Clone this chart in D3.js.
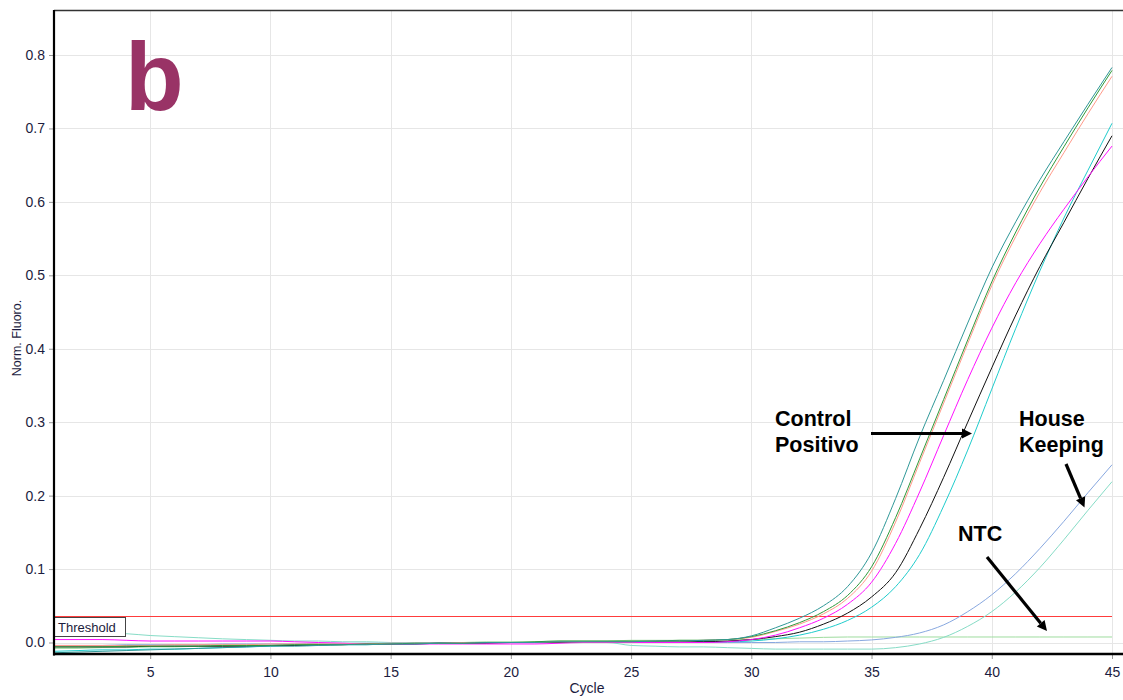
<!DOCTYPE html>
<html>
<head>
<meta charset="utf-8">
<script src="https://cdn.jsdelivr.net/npm/d3@7"></script>
<style>
  html, body { margin: 0; padding: 0; background: #ffffff; }
  svg { display: block; font-family: "Liberation Sans", Arial, sans-serif; }
</style>
</head>
<body>
<svg id="chart" width="1123" height="700"></svg>
<script>
// Amplification cycles
const cycles = [1,2,3,4,5,6,7,8,9,10,11,12,13,14,15,16,17,18,19,20,21,22,23,24,25,26,27,28,29,30,31,32,33,34,35,36,37,38,39,40,41,42,43,44,45];

// Normalised fluorescence per cycle for each well
const wellTeal = [-0.014,-0.013,-0.012,-0.011,-0.010,-0.009,-0.008,-0.007,-0.006,-0.005,-0.005,-0.004,-0.003,-0.003,-0.002,-0.002,-0.001,-0.001,0.000,0.000,0.000,0.001,0.001,0.001,0.001,0.002,0.002,0.003,0.004,
  0.009,0.020,0.033,0.050,0.076,0.122,0.196,0.280,0.357,0.435,0.510,0.573,0.630,0.682,0.733,0.783];
const wellGreen = [-0.006,-0.006,-0.006,-0.005,-0.005,-0.005,-0.005,-0.004,-0.004,-0.004,-0.003,-0.003,-0.003,-0.002,-0.002,-0.001,-0.001,-0.001,0.000,0.000,0.001,0.002,0.002,0.002,0.002,0.002,0.003,0.003,0.004,
  0.008,0.016,0.027,0.042,0.064,0.103,0.170,0.250,0.331,0.412,0.491,0.559,0.620,0.675,0.728,0.779];
const wellSalmon = [-0.004,-0.004,-0.004,-0.004,-0.004,-0.003,-0.003,-0.003,-0.003,-0.002,-0.002,-0.002,-0.002,-0.002,-0.001,-0.001,-0.001,0.000,0.000,0.000,0.000,0.001,0.001,0.001,0.001,0.002,0.002,0.003,0.004,
  0.007,0.015,0.025,0.039,0.060,0.097,0.164,0.245,0.326,0.407,0.486,0.553,0.613,0.667,0.720,0.771];
const wellMagenta = [0.004,0.004,0.004,0.003,0.002,0.002,0.002,0.002,0.002,0.002,0.001,0.000,-0.001,-0.002,-0.002,-0.002,-0.002,-0.002,-0.002,-0.002,-0.002,-0.001,0.000,0.000,0.000,0.000,0.000,0.000,0.001,
  0.004,0.010,0.020,0.033,0.052,0.082,0.135,0.205,0.282,0.358,0.428,0.490,0.543,0.590,0.634,0.676];
const wellBlack = [-0.006,-0.006,-0.006,-0.006,-0.005,-0.005,-0.005,-0.005,-0.005,-0.004,-0.004,-0.003,-0.003,-0.002,-0.002,-0.002,-0.001,-0.001,-0.001,0.000,0.000,0.000,0.000,0.001,0.001,0.001,0.001,0.001,0.002,
  0.004,0.008,0.014,0.025,0.040,0.062,0.095,0.155,0.225,0.300,0.374,0.446,0.512,0.572,0.632,0.690];
const wellCyan = [-0.012,-0.011,-0.010,-0.010,-0.009,-0.009,-0.008,-0.007,-0.006,-0.005,-0.004,-0.004,-0.003,-0.003,-0.002,-0.002,-0.001,-0.001,0.000,0.000,0.000,0.000,0.000,0.001,0.001,0.001,0.001,0.001,0.001,
  0.002,0.005,0.010,0.018,0.030,0.048,0.076,0.120,0.186,0.262,0.345,0.428,0.506,0.578,0.643,0.707];
const houseKeepingA = [-0.004,-0.004,-0.004,-0.003,-0.003,-0.003,-0.003,-0.002,-0.002,-0.002,-0.002,-0.001,-0.001,-0.001,-0.001,-0.001,0.000,0.000,0.000,0.000,0.000,0.000,0.000,0.000,0.000,0.000,0.000,0.000,0.000,
  0.000,0.000,0.001,0.001,0.002,0.0035,0.007,0.013,0.024,0.042,0.065,0.094,0.128,0.165,0.204,0.242];
const houseKeepingB = [0.016,0.014,0.013,0.012,0.0095,0.008,0.0065,0.005,0.004,0.003,0.002,0.002,0.001,0.001,0.000,0.000,0.000,0.000,0.000,0.000,0.000,0.000,0.000,0.000,-0.004,-0.005,-0.006,-0.006,-0.007,
  -0.008,-0.009,-0.009,-0.009,-0.009,-0.009,-0.007,-0.002,0.007,0.022,0.042,0.069,0.102,0.140,0.180,0.219];
const ntc = [-0.008,-0.008,-0.007,-0.007,-0.006,-0.006,-0.005,-0.005,-0.004,-0.004,-0.003,-0.003,-0.002,-0.002,-0.001,-0.001,0.000,0.000,0.001,0.001,0.001,0.002,0.002,0.002,0.003,0.003,0.003,0.003,0.004,
  0.004,0.005,0.006,0.007,0.0075,0.0075,0.0075,0.0075,0.0075,0.0075,0.0075,0.0075,0.0075,0.0075,0.0075,0.0075];

const thresholdValue = 0.0365;

const xTickValues = [5,10,15,20,25,30,35,40,45];
const yTickValues = [0.0,0.1,0.2,0.3,0.4,0.5,0.6,0.7,0.8];

// drawn back to front
const curves = [
  { values: ntc,           color: "#9edc9e" },
  { values: houseKeepingB, color: "#86dcc6" },
  { values: houseKeepingA, color: "#88a8e0" },
  { values: wellCyan,      color: "#1fcccc" },
  { values: wellBlack,     color: "#111111" },
  { values: wellMagenta,   color: "#ff10ff" },
  { values: wellSalmon,    color: "#ff9a8a" },
  { values: wellGreen,     color: "#2f9a3a" },
  { values: wellTeal,      color: "#2f9898" }
];

const svg = d3.select("#chart");
const plot = { left: 54, right: 1123, top: 10, bottom: 654 };

const x = d3.scaleLinear().domain([1, 45]).range([54, 1112]);
const y = d3.scaleLinear().domain([0, 0.8]).range([642.5, 55]);

svg.append("defs").append("clipPath").attr("id", "plotClip")
  .append("rect")
  .attr("x", plot.left).attr("y", plot.top)
  .attr("width", plot.right - plot.left).attr("height", plot.bottom - plot.top);

// grid
const grid = svg.append("g").attr("stroke", "#e6e6e6").attr("stroke-width", 1);
grid.selectAll("line.v").data(xTickValues).join("line")
  .attr("x1", d => Math.round(x(d)) + 0.5).attr("x2", d => Math.round(x(d)) + 0.5)
  .attr("y1", plot.top).attr("y2", plot.bottom);
grid.selectAll("line.h").data(yTickValues).join("line")
  .attr("x1", plot.left).attr("x2", plot.right)
  .attr("y1", d => Math.round(y(d)) + 0.5).attr("y2", d => Math.round(y(d)) + 0.5);

// threshold
const thrY = Math.round(y(thresholdValue)) + 0.5;
svg.append("line")
  .attr("x1", plot.left).attr("x2", 1112)
  .attr("y1", thrY).attr("y2", thrY)
  .attr("stroke", "#ff3c3c").attr("stroke-width", 1.2);

// amplification curves
const line = d3.line()
  .x((d, i) => x(cycles[i]))
  .y(d => y(d))
  .curve(d3.curveMonotoneX);

svg.append("g").attr("clip-path", "url(#plotClip)")
  .selectAll("path").data(curves).join("path")
  .attr("d", d => line(d.values))
  .attr("fill", "none")
  .attr("stroke", d => d.color)
  .attr("stroke-width", 1);

// threshold label
const thr = svg.append("g");
thr.append("rect")
  .attr("x", plot.left + 0.5).attr("y", 617.5)
  .attr("width", 71).attr("height", 19)
  .attr("fill", "#ffffff").attr("stroke", "#444").attr("stroke-width", 1);
thr.append("text")
  .attr("x", 58).attr("y", 632)
  .attr("font-size", 13).attr("fill", "#1c1c3c")
  .text("Threshold");

// axes
const tickColor = "#1c1c40";
const yAxis = svg.append("g")
  .attr("transform", `translate(${plot.left},0)`)
  .call(d3.axisLeft(y).tickValues(yTickValues).tickFormat(d3.format(".1f")).tickSize(5).tickPadding(4));
yAxis.select(".domain").remove();
yAxis.selectAll(".tick line").attr("stroke", "#999");
yAxis.selectAll(".tick text").attr("font-size", 14).attr("fill", tickColor)
  .attr("font-family", "'Liberation Sans', Arial, sans-serif");

const xAxis = svg.append("g")
  .attr("transform", `translate(0,${plot.bottom})`)
  .call(d3.axisBottom(x).tickValues(xTickValues).tickFormat(d3.format("d")).tickSize(5).tickPadding(8));
xAxis.select(".domain").remove();
xAxis.selectAll(".tick line").attr("stroke", "#999");
xAxis.selectAll(".tick text").attr("font-size", 14).attr("fill", tickColor)
  .attr("font-family", "'Liberation Sans', Arial, sans-serif");

// frame
svg.append("line").attr("x1", plot.left).attr("x2", plot.right)
  .attr("y1", plot.top + 0.5).attr("y2", plot.top + 0.5)
  .attr("stroke", "#333").attr("stroke-width", 1.3);
svg.append("line").attr("x1", plot.left).attr("x2", plot.left)
  .attr("y1", plot.top).attr("y2", plot.bottom + 1.5)
  .attr("stroke", "#000").attr("stroke-width", 2.2);
svg.append("line").attr("x1", plot.left - 1).attr("x2", plot.right)
  .attr("y1", plot.bottom).attr("y2", plot.bottom)
  .attr("stroke", "#000").attr("stroke-width", 2.6);

// axis titles
svg.append("text")
  .attr("x", 587).attr("y", 693)
  .attr("text-anchor", "middle").attr("font-size", 14).attr("fill", tickColor)
  .text("Cycle");
svg.append("text")
  .attr("transform", "translate(21,338) rotate(-90)")
  .attr("text-anchor", "middle").attr("font-size", 12.5).attr("fill", tickColor)
  .text("Norm. Fluoro.");

// panel letter
svg.append("text")
  .attr("x", 125).attr("y", 110)
  .attr("font-size", 96).attr("font-weight", "bold").attr("fill", "#993366")
  .text("b");

// annotations
const notes = svg.append("g").attr("font-size", 21.5).attr("font-weight", "bold").attr("fill", "#000");
notes.append("text").attr("x", 775).attr("y", 426).text("Control");
notes.append("text").attr("x", 775).attr("y", 452).text("Positivo");
notes.append("text").attr("x", 1019).attr("y", 426).text("House");
notes.append("text").attr("x", 1019).attr("y", 452).text("Keeping");
notes.append("text").attr("x", 958).attr("y", 541).text("NTC");

const arrows = [
  { x1: 871, y1: 433.5, x2: 972, y2: 433.5 },
  { x1: 1066, y1: 464, x2: 1084.5, y2: 507.5 },
  { x1: 987, y1: 557, x2: 1047, y2: 631 }
];
const arrowG = svg.append("g");
arrows.forEach(a => {
  const ang = Math.atan2(a.y2 - a.y1, a.x2 - a.x1);
  const headLen = 10, headHalf = 5;
  const bx = a.x2 - headLen * Math.cos(ang), by = a.y2 - headLen * Math.sin(ang);
  arrowG.append("line")
    .attr("x1", a.x1).attr("y1", a.y1).attr("x2", bx).attr("y2", by)
    .attr("stroke", "#000").attr("stroke-width", 3.2);
  const px = -Math.sin(ang), py = Math.cos(ang);
  arrowG.append("path")
    .attr("d", `M${a.x2},${a.y2} L${bx + px * headHalf},${by + py * headHalf} L${bx - px * headHalf},${by - py * headHalf} Z`)
    .attr("fill", "#000");
});
</script>
</body>
</html>
